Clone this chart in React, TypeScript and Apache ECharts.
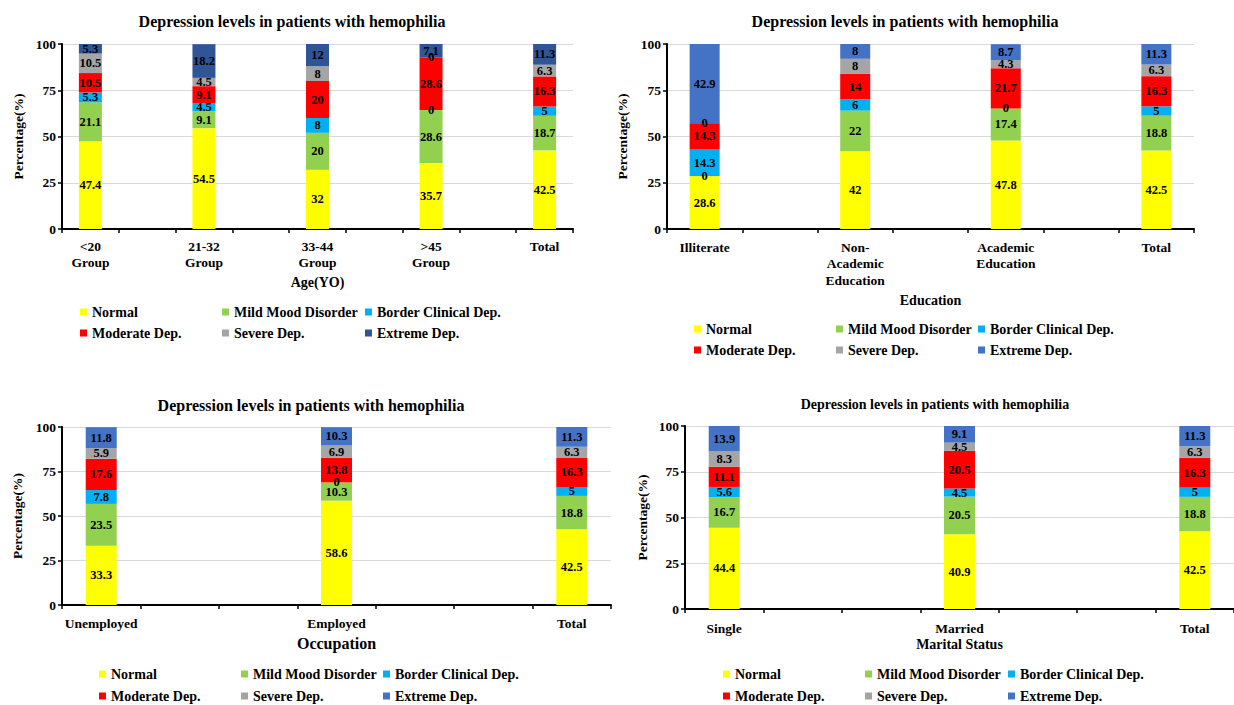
import { useEffect, useRef } from 'react';
import * as echarts from 'echarts';

const levels = ['Normal', 'Mild Mood Disorder', 'Border Clinical Dep.', 'Moderate Dep.', 'Severe Dep.', 'Extreme Dep.'];
const titleText = 'Depression levels in patients with hemophilia';
const yTicks = [0, 25, 50, 75, 100];

// Age panel
const ageCategories = ['<20\nGroup', '21-32\nGroup', '33-44\nGroup', '>45\nGroup', 'Total'];
const ageNormal = [47.4, 54.5, 32, 35.7, 42.5];
const ageMild = [21.1, 9.1, 20, 28.6, 18.7];
const ageBorder = [5.3, 4.5, 8, 0, 5];
const ageModerate = [10.5, 9.1, 20, 28.6, 16.3];
const ageSevere = [10.5, 4.5, 8, 0, 6.3];
const ageExtreme = [5.3, 18.2, 12, 7.1, 11.3];

// Education panel
const eduCategories = ['Illiterate', 'Non-\nAcademic\nEducation', 'Academic\nEducation', 'Total'];
const eduNormal = [28.6, 42, 47.8, 42.5];
const eduMild = [0, 22, 17.4, 18.8];
const eduBorder = [14.3, 6, 0, 5];
const eduModerate = [14.3, 14, 21.7, 16.3];
const eduSevere = [0, 8, 4.3, 6.3];
const eduExtreme = [42.9, 8, 8.7, 11.3];

// Occupation panel
const occCategories = ['Unemployed', 'Employed', 'Total'];
const occNormal = [33.3, 58.6, 42.5];
const occMild = [23.5, 10.3, 18.8];
const occBorder = [7.8, 0, 5];
const occModerate = [17.6, 13.8, 16.3];
const occSevere = [5.9, 6.9, 6.3];
const occExtreme = [11.8, 10.3, 11.3];

// Marital status panel
const marCategories = ['Single', 'Married', 'Total'];
const marNormal = [44.4, 40.9, 42.5];
const marMild = [16.7, 20.5, 18.8];
const marBorder = [5.6, 4.5, 5];
const marModerate = [11.1, 20.5, 16.3];
const marSevere = [8.3, 4.5, 6.3];
const marExtreme = [13.9, 9.1, 11.3];

const FONT = '"Liberation Serif", "Times New Roman", serif';
const colorsA = ['#FFFF00', '#92D050', '#00B0F0', '#FF0000', '#A5A5A5', '#2F5597'];
const colorsB = ['#FFFF00', '#92D050', '#00B0F0', '#FF0000', '#A5A5A5', '#4472C4'];

const panels = [
  {
    cats: ageCategories,
    values: [ageNormal, ageMild, ageBorder, ageModerate, ageSevere, ageExtreme],
    slots: 9, pos: [0, 2, 4, 6, 8], colors: colorsA,
    grid: { left: 62, top: 44, width: 511, height: 185 },
    barWidth: 23, titleX: 292, titleY: 13, titleSize: 16,
    xName: 'Age(YO)', xNameGap: 46, xNameSize: 14, yNameGap: 37, labelMargin: 9,
    legendRows: [304, 325], legendCols: [80, 222, 365],
  },
  {
    cats: eduCategories,
    values: [eduNormal, eduMild, eduBorder, eduModerate, eduSevere, eduExtreme],
    slots: 7, pos: [0, 2, 4, 6], colors: colorsB,
    grid: { left: 667, top: 44, width: 527, height: 185 },
    barWidth: 30, titleX: 905, titleY: 13, titleSize: 16,
    xName: 'Education', xNameGap: 64, xNameSize: 14, yNameGap: 38, labelMargin: 10,
    legendRows: [321, 342], legendCols: [694, 836, 978],
  },
  {
    cats: occCategories,
    values: [occNormal, occMild, occBorder, occModerate, occSevere, occExtreme],
    slots: 7, pos: [0, 3, 6], colors: colorsB,
    grid: { left: 62, top: 427, width: 549, height: 178 },
    barWidth: 31, titleX: 311, titleY: 397, titleSize: 16,
    xName: 'Occupation', xNameGap: 30, xNameSize: 16, yNameGap: 38, labelMargin: 10,
    legendRows: [666, 688], legendCols: [99, 241, 383],
  },
  {
    cats: marCategories,
    values: [marNormal, marMild, marBorder, marModerate, marSevere, marExtreme],
    slots: 7, pos: [0, 3, 6], colors: colorsB,
    grid: { left: 685, top: 426, width: 549, height: 183 },
    barWidth: 31, titleX: 935, titleY: 397, titleSize: 14,
    xName: 'Marital Status', xNameGap: 28, xNameSize: 14, yNameGap: 36, labelMargin: 11,
    legendRows: [666, 688], legendCols: [723, 865, 1008],
  },
];

function buildOption() {
  const boldText = (size: number) => ({ fontFamily: FONT, fontWeight: 'bold' as const, fontSize: size, color: '#000' });
  const grid = panels.map((p) => ({ ...p.grid, containLabel: false }));
  const xAxis = panels.map((p, i) => {
    const labels: string[] = new Array(p.slots).fill('');
    p.pos.forEach((s, j) => { labels[s] = p.cats[j]; });
    return {
      type: 'category', gridIndex: i, data: labels,
      axisLine: { lineStyle: { color: '#000', width: 2 } },
      axisTick: { show: true, interval: 0, length: 4, lineStyle: { color: '#000', width: 1.5 } },
      axisLabel: { interval: 0, margin: p.labelMargin, lineHeight: 16.5, ...boldText(13.5) },
      name: p.xName, nameLocation: 'middle', nameGap: p.xNameGap,
      nameTextStyle: boldText(p.xNameSize),
    };
  });
  const yAxis = panels.map((p, i) => ({
    type: 'value', gridIndex: i, min: yTicks[0], max: yTicks[yTicks.length - 1], interval: yTicks[1] - yTicks[0],
    axisLine: { show: true, lineStyle: { color: '#000', width: 2 } },
    axisTick: { show: true, length: 4, lineStyle: { color: '#000', width: 1.5 } },
    splitLine: { show: true, lineStyle: { color: '#D9D9D9', width: 1 } },
    axisLabel: { margin: 6, ...boldText(13.5) },
    name: 'Percentage(%)', nameLocation: 'middle', nameGap: p.yNameGap,
    nameTextStyle: boldText(13.5),
  }));
  const series: any[] = [];
  panels.forEach((p, i) => {
    levels.forEach((lv, k) => {
      const data: (number | string)[] = new Array(p.slots).fill('-');
      p.pos.forEach((s, j) => { data[s] = p.values[k][j]; });
      series.push({
        type: 'bar', name: lv, xAxisIndex: i, yAxisIndex: i, stack: 'panel' + i,
        barWidth: p.barWidth, data,
        itemStyle: { color: p.colors[k] },
        label: { show: true, position: 'inside', ...boldText(12.5) },
      });
    });
  });
  const title = panels.map((p) => ({
    text: titleText, left: p.titleX, top: p.titleY, textAlign: 'center', padding: 0,
    textStyle: boldText(p.titleSize),
  }));
  const legend: any[] = [];
  panels.forEach((p) => {
    levels.forEach((lv, k) => {
      legend.push({
        left: p.legendCols[k % 3], top: p.legendRows[Math.floor(k / 3)],
        data: [{ name: lv, itemStyle: { color: p.colors[k] } }],
        icon: 'rect', itemWidth: 7, itemHeight: 7, padding: 0, selectedMode: false,
        textStyle: { ...boldText(14), lineHeight: 16 },
      });
    });
  });
  return { animation: false, backgroundColor: '#fff', title, grid, xAxis, yAxis, series, legend };
}

export default function App() {
  const ref = useRef<HTMLDivElement>(null);
  useEffect(() => {
    if (!ref.current) return;
    const chart = echarts.init(ref.current, undefined, { renderer: 'svg' });
    chart.setOption(buildOption() as any);
    return () => chart.dispose();
  }, []);
  return <div ref={ref} style={{ position: 'fixed', left: 0, top: 0, width: 1234, height: 705 }} />;
}
